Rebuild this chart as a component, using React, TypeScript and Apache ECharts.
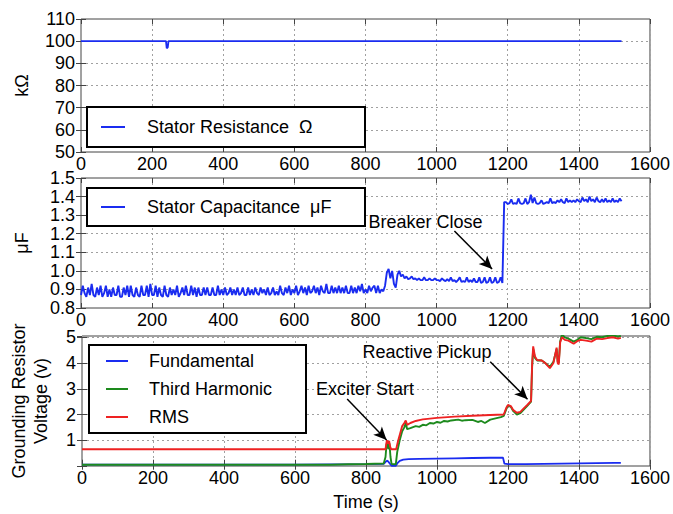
import React, { useEffect, useRef } from 'react';
import * as echarts from 'echarts';

const FONT = '"Liberation Sans", Arial, Helvetica, sans-serif';

const X_MIN = 0;
const X_MAX = 1600;
const X_STEP = 200;

const BLUE = '#1a2cf0';
const GREEN = '#1d8a1d';
const RED = '#ee2222';

// ---- top panel: stator resistance (kΩ) ----
const resistance: number[][] = [
  [0, 100], [239, 100], [241, 96.8], [244, 97.2], [246, 100], [1520, 100],
];

// ---- middle panel: stator capacitance (µF), sampled every 5 s ----
const CAP_SAMPLE = 5;
const capBeforeExciter = [
  0.87, 0.92, 0.88, 0.86, 0.91, 0.87, 0.93, 0.87, 0.86, 0.91,
  0.87, 0.92, 0.86, 0.88, 0.92, 0.86, 0.90, 0.86, 0.91, 0.87,
  0.87, 0.92, 0.86, 0.86, 0.91, 0.87, 0.92, 0.86, 0.92, 0.87,
  0.86, 0.91, 0.87, 0.86, 0.92, 0.87, 0.87, 0.92, 0.86, 0.93,
  0.87, 0.87, 0.92, 0.86, 0.91, 0.87, 0.86, 0.92, 0.87, 0.86,
  0.91, 0.87, 0.90, 0.87, 0.92, 0.86, 0.88, 0.91, 0.87, 0.92,
  0.87, 0.87, 0.92, 0.87, 0.91, 0.86, 0.91, 0.87, 0.87, 0.91,
  0.87, 0.91, 0.87, 0.87, 0.91, 0.87, 0.87, 0.92, 0.87, 0.90,
  0.87, 0.91, 0.87, 0.88, 0.91, 0.87, 0.90, 0.87, 0.91, 0.87,
  0.88, 0.91, 0.87, 0.87, 0.91, 0.87, 0.90, 0.87, 0.91, 0.88,
  0.87, 0.91, 0.88, 0.90, 0.87, 0.91, 0.87, 0.88, 0.91, 0.87,
  0.89, 0.87, 0.92, 0.88, 0.87, 0.91, 0.88, 0.92, 0.87, 0.90,
  0.88, 0.92, 0.87, 0.89, 0.92, 0.88, 0.91, 0.87, 0.92, 0.88,
  0.89, 0.92, 0.88, 0.91, 0.87, 0.92, 0.89, 0.88, 0.93, 0.88,
  0.88, 0.92, 0.88, 0.91, 0.88, 0.92, 0.88, 0.91, 0.88, 0.92,
  0.88, 0.88, 0.92, 0.88, 0.91, 0.88, 0.92, 0.89, 0.93, 0.88,
  0.90, 0.88, 0.92, 0.89, 0.91, 0.92, 0.88, 0.92, 0.88, 0.90,
];
const capBeforeBreaker = [
  0.89, 0.92, 0.99, 1.01, 0.96, 1.00, 0.93, 0.91, 0.98, 1.00,
  0.97, 0.98, 0.96, 0.97, 0.955, 0.96, 0.97, 0.955, 0.96, 0.95,
  0.96, 0.95, 0.95, 0.965, 0.95, 0.95, 0.96, 0.95, 0.95, 0.96,
  0.95, 0.95, 0.945, 0.96, 0.95, 0.945, 0.955, 0.945, 0.965, 0.945,
  0.95, 0.94, 0.95, 0.965, 0.94, 0.945, 0.94, 0.965, 0.94, 0.95,
  0.94, 0.96, 0.94, 0.94, 0.965, 0.935, 0.94, 0.965, 0.935, 0.94,
  0.965, 0.935, 0.94, 0.965, 0.935, 0.94, 0.965, 0.935,
];
const capAfterBreaker = [
  1.37, 1.37, 1.36, 1.365, 1.385, 1.36, 1.365, 1.36, 1.39, 1.365,
  1.36, 1.365, 1.39, 1.36, 1.37, 1.41, 1.365, 1.395, 1.365, 1.36,
  1.365, 1.38, 1.36, 1.365, 1.37, 1.365, 1.39, 1.365, 1.37, 1.365,
  1.38, 1.37, 1.385, 1.37, 1.365, 1.39, 1.37, 1.38, 1.37, 1.38,
  1.37, 1.385, 1.375, 1.37, 1.395, 1.375, 1.385, 1.37, 1.40, 1.375,
  1.385, 1.37, 1.395, 1.375, 1.37, 1.385, 1.37, 1.39, 1.37, 1.38,
  1.37, 1.39, 1.37, 1.38, 1.37, 1.39, 1.375,
];
const capacitanceValues = [...capBeforeExciter, ...capBeforeBreaker, ...capAfterBreaker];

// ---- bottom panel: grounding resistor voltage (V) ----
const fundamental: number[][] = [
  [0, 0], [300, 0], [600, 0], [700, 0.01], [800, 0.02], [850, 0.03], [856, 0.12], [860, 0.16],
  [864, 0.1], [868, 0.03], [872, -0.04], [884, -0.04], [888, 0.05], [895, 0.15], [905, 0.2],
  [920, 0.22], [950, 0.23], [1000, 0.24], [1050, 0.25], [1100, 0.26], [1150, 0.27], [1186, 0.27],
  [1190, 0.04], [1200, 0.02], [1250, 0.02], [1300, 0.03], [1350, 0.04], [1400, 0.05], [1450, 0.06],
  [1500, 0.07], [1518, 0.07],
];
const thirdHarmonic: number[][] = [
  [0, 0], [700, 0], [750, 0.02], [800, 0.03], [850, 0.05], [855, 0.3], [858, 0.8], [861, 0.85],
  [863, 0.6], [866, 0.83], [869, 0.3], [872, 0.03], [884, 0.02], [888, 0.5], [895, 0.95], [902, 1.3],
  [908, 1.45], [912, 1.62], [916, 1.38], [925, 1.42], [940, 1.5], [950, 1.47], [960, 1.55], [970, 1.53],
  [980, 1.62], [990, 1.6], [1000, 1.66], [1010, 1.63], [1020, 1.7], [1030, 1.68], [1040, 1.72],
  [1060, 1.75], [1070, 1.71], [1080, 1.73], [1100, 1.74], [1115, 1.66], [1125, 1.7], [1135, 1.62],
  [1150, 1.75], [1165, 1.8], [1180, 1.85], [1188, 1.9], [1195, 2.15], [1200, 2.3], [1208, 2.25],
  [1215, 2.08], [1225, 1.95], [1235, 2.0], [1245, 2.15], [1255, 2.3], [1262, 2.4], [1265, 2.45],
  [1268, 3.8], [1271, 4.5], [1276, 4.15], [1282, 4.05], [1295, 4.05], [1305, 3.95], [1318, 3.8],
  [1328, 4.0], [1337, 4.5], [1340, 4.0], [1343, 3.95], [1347, 4.8], [1352, 5.05], [1360, 4.95],
  [1370, 4.9], [1385, 4.78], [1395, 4.85], [1405, 4.95], [1420, 4.92], [1435, 4.88], [1450, 4.97],
  [1465, 4.95], [1480, 5.0], [1495, 5.02], [1510, 4.98], [1518, 5.0],
];
const rms: number[][] = [
  [0, 0.6], [300, 0.6], [600, 0.6], [855, 0.6], [857, 0.8], [859, 0.95], [862, 0.82], [865, 0.92],
  [868, 0.7], [871, 0.6], [885, 0.6], [890, 0.9], [896, 1.2], [902, 1.5], [908, 1.62], [912, 1.72],
  [916, 1.55], [925, 1.62], [940, 1.7], [960, 1.76], [1000, 1.82], [1050, 1.87], [1100, 1.9],
  [1150, 1.93], [1188, 1.95], [1195, 2.2], [1200, 2.32], [1208, 2.28], [1215, 2.12], [1225, 2.02],
  [1235, 2.05], [1245, 2.2], [1255, 2.33], [1265, 2.48], [1268, 3.9], [1271, 4.6], [1276, 4.2],
  [1282, 4.07], [1295, 4.05], [1305, 3.95], [1318, 3.75], [1328, 3.95], [1337, 4.55], [1340, 3.95],
  [1343, 3.9], [1347, 4.75], [1352, 4.95], [1360, 4.85], [1370, 4.82], [1385, 4.7], [1395, 4.8],
  [1405, 4.85], [1420, 4.82], [1435, 4.78], [1450, 4.9], [1465, 4.88], [1480, 4.92], [1495, 4.95],
  [1510, 4.9], [1518, 4.93],
];

// annotations (data coordinates)
const breakerLabel = { name: 'Breaker Close', coord: [969, 1.263] };
const breakerArrow = [[1050, 1.215], [1156, 1.01]];
const exciterLabel = { name: 'Exciter Start', coord: [797, 2.94] };
const exciterArrow = [[747, 2.55], [858, 0.96]];
const pickupLabel = { name: 'Reactive Pickup', coord: [972, 4.39] };
const pickupArrow = [[1150, 4.0], [1255, 2.54]];

const panels = [
  { top: 19, height: 133, min: 50, max: 110, interval: 10 },
  { top: 178, height: 130, min: 0.8, max: 1.5, interval: 0.1 },
  { top: 336, height: 130, min: -0.05, max: 5, interval: 1 },
];

const labelText = { fontSize: 18, fontFamily: FONT, color: '#000' };

function buildOption() {
  const grid = panels.map((p) => ({
    left: 81, right: 16, top: p.top, height: p.height,
    show: true, borderColor: '#444', borderWidth: 1, backgroundColor: '#fff',
  }));
  const xAxis: any[] = [];
  const yAxis: any[] = [];
  panels.forEach((p, i) => {
    xAxis.push({
      gridIndex: i, type: 'value', min: X_MIN, max: X_MAX, interval: X_STEP,
      axisLine: { show: false },
      axisTick: { show: true, inside: true, length: 5, lineStyle: { color: '#444' } },
      axisLabel: { ...labelText, margin: 3, formatter: (v: number) => String(Math.round(v)) },
      splitLine: { show: true, lineStyle: { color: '#a0a0a0', width: 1, type: [2, 3] } },
      ...(i === 2 ? { name: 'Time (s)', nameLocation: 'middle', nameGap: 27, nameTextStyle: labelText } : {}),
    });
    xAxis.push({
      gridIndex: i, type: 'value', position: 'top', min: X_MIN, max: X_MAX, interval: X_STEP,
      axisLine: { show: false },
      axisTick: { show: true, inside: true, length: 5, lineStyle: { color: '#444' } },
      axisLabel: { show: false }, splitLine: { show: false },
    });
    const names = ['kΩ', 'μF', 'Grounding Resistor\nVoltage (v)'];
    const gaps = [48, 48, 30];
    yAxis.push({
      gridIndex: i, type: 'value', min: p.min, max: p.max, interval: p.interval,
      axisLine: { show: false },
      axisTick: { show: true, inside: true, length: 5, lineStyle: { color: '#444' } },
      axisLabel: {
        ...labelText, margin: 6,
        formatter: (v: number) => {
          if (i === 1) return v.toFixed(1);
          if (i === 2) return v < 0 ? '' : String(Math.round(v));
          return String(Math.round(v));
        },
      },
      splitLine: { show: true, lineStyle: { color: '#a0a0a0', width: 1, type: [2, 3] } },
      name: names[i], nameLocation: 'middle', nameRotate: 90, nameGap: gaps[i],
      nameTextStyle: { ...labelText, lineHeight: 22 },
    });
    yAxis.push({
      gridIndex: i, type: 'value', position: 'right', min: p.min, max: p.max, interval: p.interval,
      axisLine: { show: false },
      axisTick: { show: true, inside: true, length: 5, lineStyle: { color: '#444' } },
      axisLabel: { show: false }, splitLine: { show: false },
    });
  });

  const arrowLine = (pts: number[][]) => [[{ coord: pts[0] }, { coord: pts[1] }]];
  const markLineBase = {
    silent: true, symbol: ['none', 'arrow'], symbolSize: [9, 13],
    lineStyle: { color: '#000', width: 1.5, type: 'solid' },
    label: { show: false }, emphasis: { disabled: true },
  };
  const markPointBase = {
    silent: true, symbol: 'rect', symbolSize: 1,
    itemStyle: { color: 'rgba(0,0,0,0)' },
    label: { show: true, position: 'inside', formatter: '{b}', ...labelText },
  };

  const legendBase = {
    orient: 'vertical', icon: 'rect', itemHeight: 2, selectedMode: false,
    backgroundColor: '#fff', borderColor: '#000', borderWidth: 2, borderRadius: 0,
  };

  return {
    animation: false,
    grid,
    xAxis,
    yAxis,
    legend: [
      {
        ...legendBase, data: ['Stator Resistance  Ω'], left: 87, top: 107,
        padding: [10, 18, 10, 14], itemWidth: 24,
        textStyle: { ...labelText, width: 200, lineHeight: 20, padding: [0, 0, 0, 17] },
      },
      {
        ...legendBase, data: ['Stator Capacitance  μF'], left: 87, top: 188,
        padding: [9, 18, 9, 14], itemWidth: 24,
        textStyle: { ...labelText, width: 200, lineHeight: 20, padding: [0, 0, 0, 17] },
      },
      {
        ...legendBase, data: ['Fundamental', 'Third Harmonic', 'RMS'], left: 89, top: 345,
        padding: [6, 22, 6, 17], itemWidth: 22, itemGap: 8,
        textStyle: { ...labelText, width: 135, lineHeight: 20, padding: [0, 0, 0, 16] },
      },
    ],
    series: [
      {
        name: 'Stator Resistance  Ω', type: 'line', xAxisIndex: 0, yAxisIndex: 0,
        data: resistance, showSymbol: false, symbol: 'none',
        lineStyle: { color: BLUE, width: 1.8 }, itemStyle: { color: BLUE },
      },
      {
        name: 'Stator Capacitance  μF', type: 'line', xAxisIndex: 2, yAxisIndex: 2,
        data: capacitanceValues.map((v, k) => [k * CAP_SAMPLE, v]),
        showSymbol: false, symbol: 'none',
        lineStyle: { color: BLUE, width: 1.9 }, itemStyle: { color: BLUE },
        markLine: { ...markLineBase, data: arrowLine(breakerArrow) },
        markPoint: { ...markPointBase, data: [breakerLabel] },
      },
      {
        name: 'Fundamental', type: 'line', xAxisIndex: 4, yAxisIndex: 4,
        data: fundamental, showSymbol: false, symbol: 'none',
        lineStyle: { color: BLUE, width: 1.8 }, itemStyle: { color: BLUE },
      },
      {
        name: 'Third Harmonic', type: 'line', xAxisIndex: 4, yAxisIndex: 4,
        data: thirdHarmonic, showSymbol: false, symbol: 'none',
        lineStyle: { color: GREEN, width: 1.9 }, itemStyle: { color: GREEN },
      },
      {
        name: 'RMS', type: 'line', xAxisIndex: 4, yAxisIndex: 4,
        data: rms, showSymbol: false, symbol: 'none',
        lineStyle: { color: RED, width: 1.9 }, itemStyle: { color: RED },
        markLine: { ...markLineBase, data: [...arrowLine(exciterArrow), ...arrowLine(pickupArrow)] },
        markPoint: { ...markPointBase, data: [exciterLabel, pickupLabel] },
      },
    ],
  };
}

export default function App() {
  const ref = useRef<HTMLDivElement>(null);
  useEffect(() => {
    if (!ref.current) return;
    const chart = echarts.init(ref.current, undefined, { renderer: 'svg' });
    chart.setOption(buildOption() as any);
    return () => chart.dispose();
  }, []);
  return (
    <div
      ref={ref}
      style={{ position: 'absolute', left: 0, top: 0, width: 673, height: 514, background: '#fff' }}
    />
  );
}
